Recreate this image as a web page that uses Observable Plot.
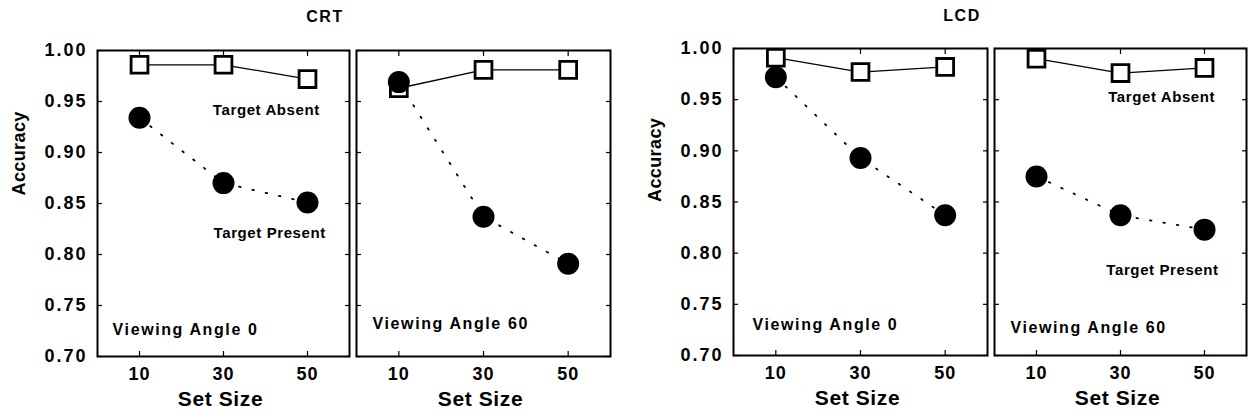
<!DOCTYPE html>
<html><head><meta charset="utf-8">
<script src="https://cdn.jsdelivr.net/npm/d3@7"></script>
<script src="https://cdn.jsdelivr.net/npm/@observablehq/plot@0.6"></script>
<style>
html,body{margin:0;padding:0;background:#fff;}
#chart{position:relative;width:1248px;height:419px;font-family:"Liberation Sans",Arial,sans-serif;color:#000;overflow:hidden;}
.panel{position:absolute;top:0;}
.title{position:absolute;font-weight:bold;font-size:16px;letter-spacing:1.5px;transform:translate(-50%,-50%);white-space:nowrap;}
</style></head><body><div id="chart"></div>
<script>
// ---- data ----
const displays = ["CRT", "LCD"];
const angleLabels = ["Viewing Angle 0", "Viewing Angle 60"];
const setSizes = [10, 30, 50];
const yTicks = [0.70, 0.75, 0.80, 0.85, 0.90, 0.95, 1.00];
const absentLabel = "Target Absent";
const presentLabel = "Target Present";
const xTitle = "Set Size";
const yTitle = "Accuracy";

const crt0Absent   = [0.986, 0.986, 0.972];
const crt0Present  = [0.934, 0.870, 0.851];
const crt60Absent  = [0.963, 0.981, 0.981];
const crt60Present = [0.969, 0.837, 0.791];
const lcd0Absent   = [0.991, 0.977, 0.982];
const lcd0Present  = [0.972, 0.893, 0.837];
const lcd60Absent  = [0.990, 0.976, 0.981];
const lcd60Present = [0.875, 0.837, 0.823];

// ---- layout ----
const panels = [
  {left: 0,   width: 352, ml: 97,  mr: 3, mt: 50, mb: 63, absent: crt0Absent,  present: crt0Present,  angle: angleLabels[0], yAxis: true, yTitleDy: -8,
   angleAt: [3.6, 0.726], absentAt: [40.2, 0.941], presentAt: [41, 0.821]},
  {left: 352, width: 260, ml: 4,   mr: 2, mt: 50, mb: 63, absent: crt60Absent, present: crt60Present, angle: angleLabels[1], yAxis: false,
   angleAt: [3.8, 0.732]},
  {left: 612, width: 378, ml: 121, mr: 3, mt: 48, mb: 64, absent: lcd0Absent,  present: lcd0Present,  angle: angleLabels[0], yAxis: true, yTitleDy: 0,
   angleAt: [4.5, 0.730]},
  {left: 990, width: 258, ml: 4,   mr: 2, mt: 48, mb: 64, absent: lcd60Absent, present: lcd60Present, angle: angleLabels[1], yAxis: false,
   angleAt: [3.8, 0.727], absentAt: [39.8, 0.952], presentAt: [40, 0.783]}
];

// letter spacing per text (applied after rendering)
const axisSpacing = {"y-axis tick label": "2px", "x-axis tick label": "1px"};
const textSpacing = new Map([
  [absentLabel, "0.6px"], [presentLabel, "0.6px"],
  [angleLabels[0], "1.6px"], [angleLabels[1], "1.6px"],
  [xTitle, "0.6px"], [yTitle, "0.4px"]
]);

const chart = document.getElementById("chart");

for (const p of panels) {
  const rows = setSizes.map((s, i) => ({size: s, absent: p.absent[i], present: p.present[i]}));
  const marks = [
    Plot.axisX(setSizes, {tickSize: -5, fill: "none", strokeWidth: 1.2}),
    Plot.axisX(setSizes, {anchor: "top", tickSize: -5, fill: "none", strokeWidth: 1.2}),
    Plot.axisY(yTicks, {tickSize: -5, fill: "none", strokeWidth: 1.2}),
    Plot.axisY(yTicks, {anchor: "right", tickSize: -5, fill: "none", strokeWidth: 1.2}),
    Plot.axisX(setSizes, {tickSize: 0, tickPadding: 11, fontSize: 18, fontWeight: "bold", label: null}),
    Plot.text([xTitle], {frameAnchor: "bottom", dy: 49, dx: -3, fontSize: 21, fontWeight: "bold"}),
    Plot.line(rows, {x: "size", y: "present", strokeDasharray: "1.6 12", strokeWidth: 1.8}),
    Plot.line(rows, {x: "size", y: "absent", strokeWidth: 1.3}),
    Plot.dot(rows, {x: "size", y: "absent", symbol: "square", r: 9.5, fill: "white", stroke: "black", strokeWidth: 2.8}),
    Plot.dot(rows, {x: "size", y: "present", r: 11, fill: "black"}),
    Plot.text([p.angle], {x: [p.angleAt[0]], y: [p.angleAt[1]], text: d => d, textAnchor: "start", fontSize: 16, fontWeight: "bold"}),
    Plot.frame({strokeWidth: 2})
  ];
  if (p.yAxis) {
    marks.push(Plot.axisY(yTicks, {tickSize: 0, tickPadding: 10, tickFormat: d3.format(".2f"), fontSize: 18, fontWeight: "bold", label: null}));
    marks.push(Plot.text([yTitle], {frameAnchor: "left", rotate: -90, dx: -78, dy: p.yTitleDy, fontSize: 18, fontWeight: "bold"}));
  }
  if (p.absentAt) marks.push(Plot.text([absentLabel], {x: [p.absentAt[0]], y: [p.absentAt[1]], text: d => d, fontSize: 15, fontWeight: "bold"}));
  if (p.presentAt) marks.push(Plot.text([presentLabel], {x: [p.presentAt[0]], y: [p.presentAt[1]], text: d => d, fontSize: 15, fontWeight: "bold"}));

  const svg = Plot.plot({
    width: p.width, height: 419,
    marginLeft: p.ml, marginRight: p.mr, marginTop: p.mt, marginBottom: p.mb,
    x: {domain: [0, 60]},
    y: {domain: [0.70, 1.00]},
    style: {fontFamily: '"Liberation Sans", Arial, sans-serif', color: "#000", background: "transparent", overflow: "visible"},
    marks
  });
  for (const [label, ls] of Object.entries(axisSpacing)) {
    d3.select(svg).selectAll(`g[aria-label="${label}"] text`).style("letter-spacing", ls);
  }
  d3.select(svg).selectAll("text").each(function () {
    const ls = textSpacing.get(this.textContent);
    if (ls) this.style.letterSpacing = ls;
  });
  svg.classList.add("panel");
  svg.style.left = p.left + "px";
  chart.appendChild(svg);
}

// group titles
const titleAt = [[325, 17], [962, 16]];
displays.forEach((t, i) => {
  const d = document.createElement("div");
  d.className = "title";
  d.textContent = t;
  d.style.left = titleAt[i][0] + "px";
  d.style.top = titleAt[i][1] + "px";
  chart.appendChild(d);
});
</script></body></html>
